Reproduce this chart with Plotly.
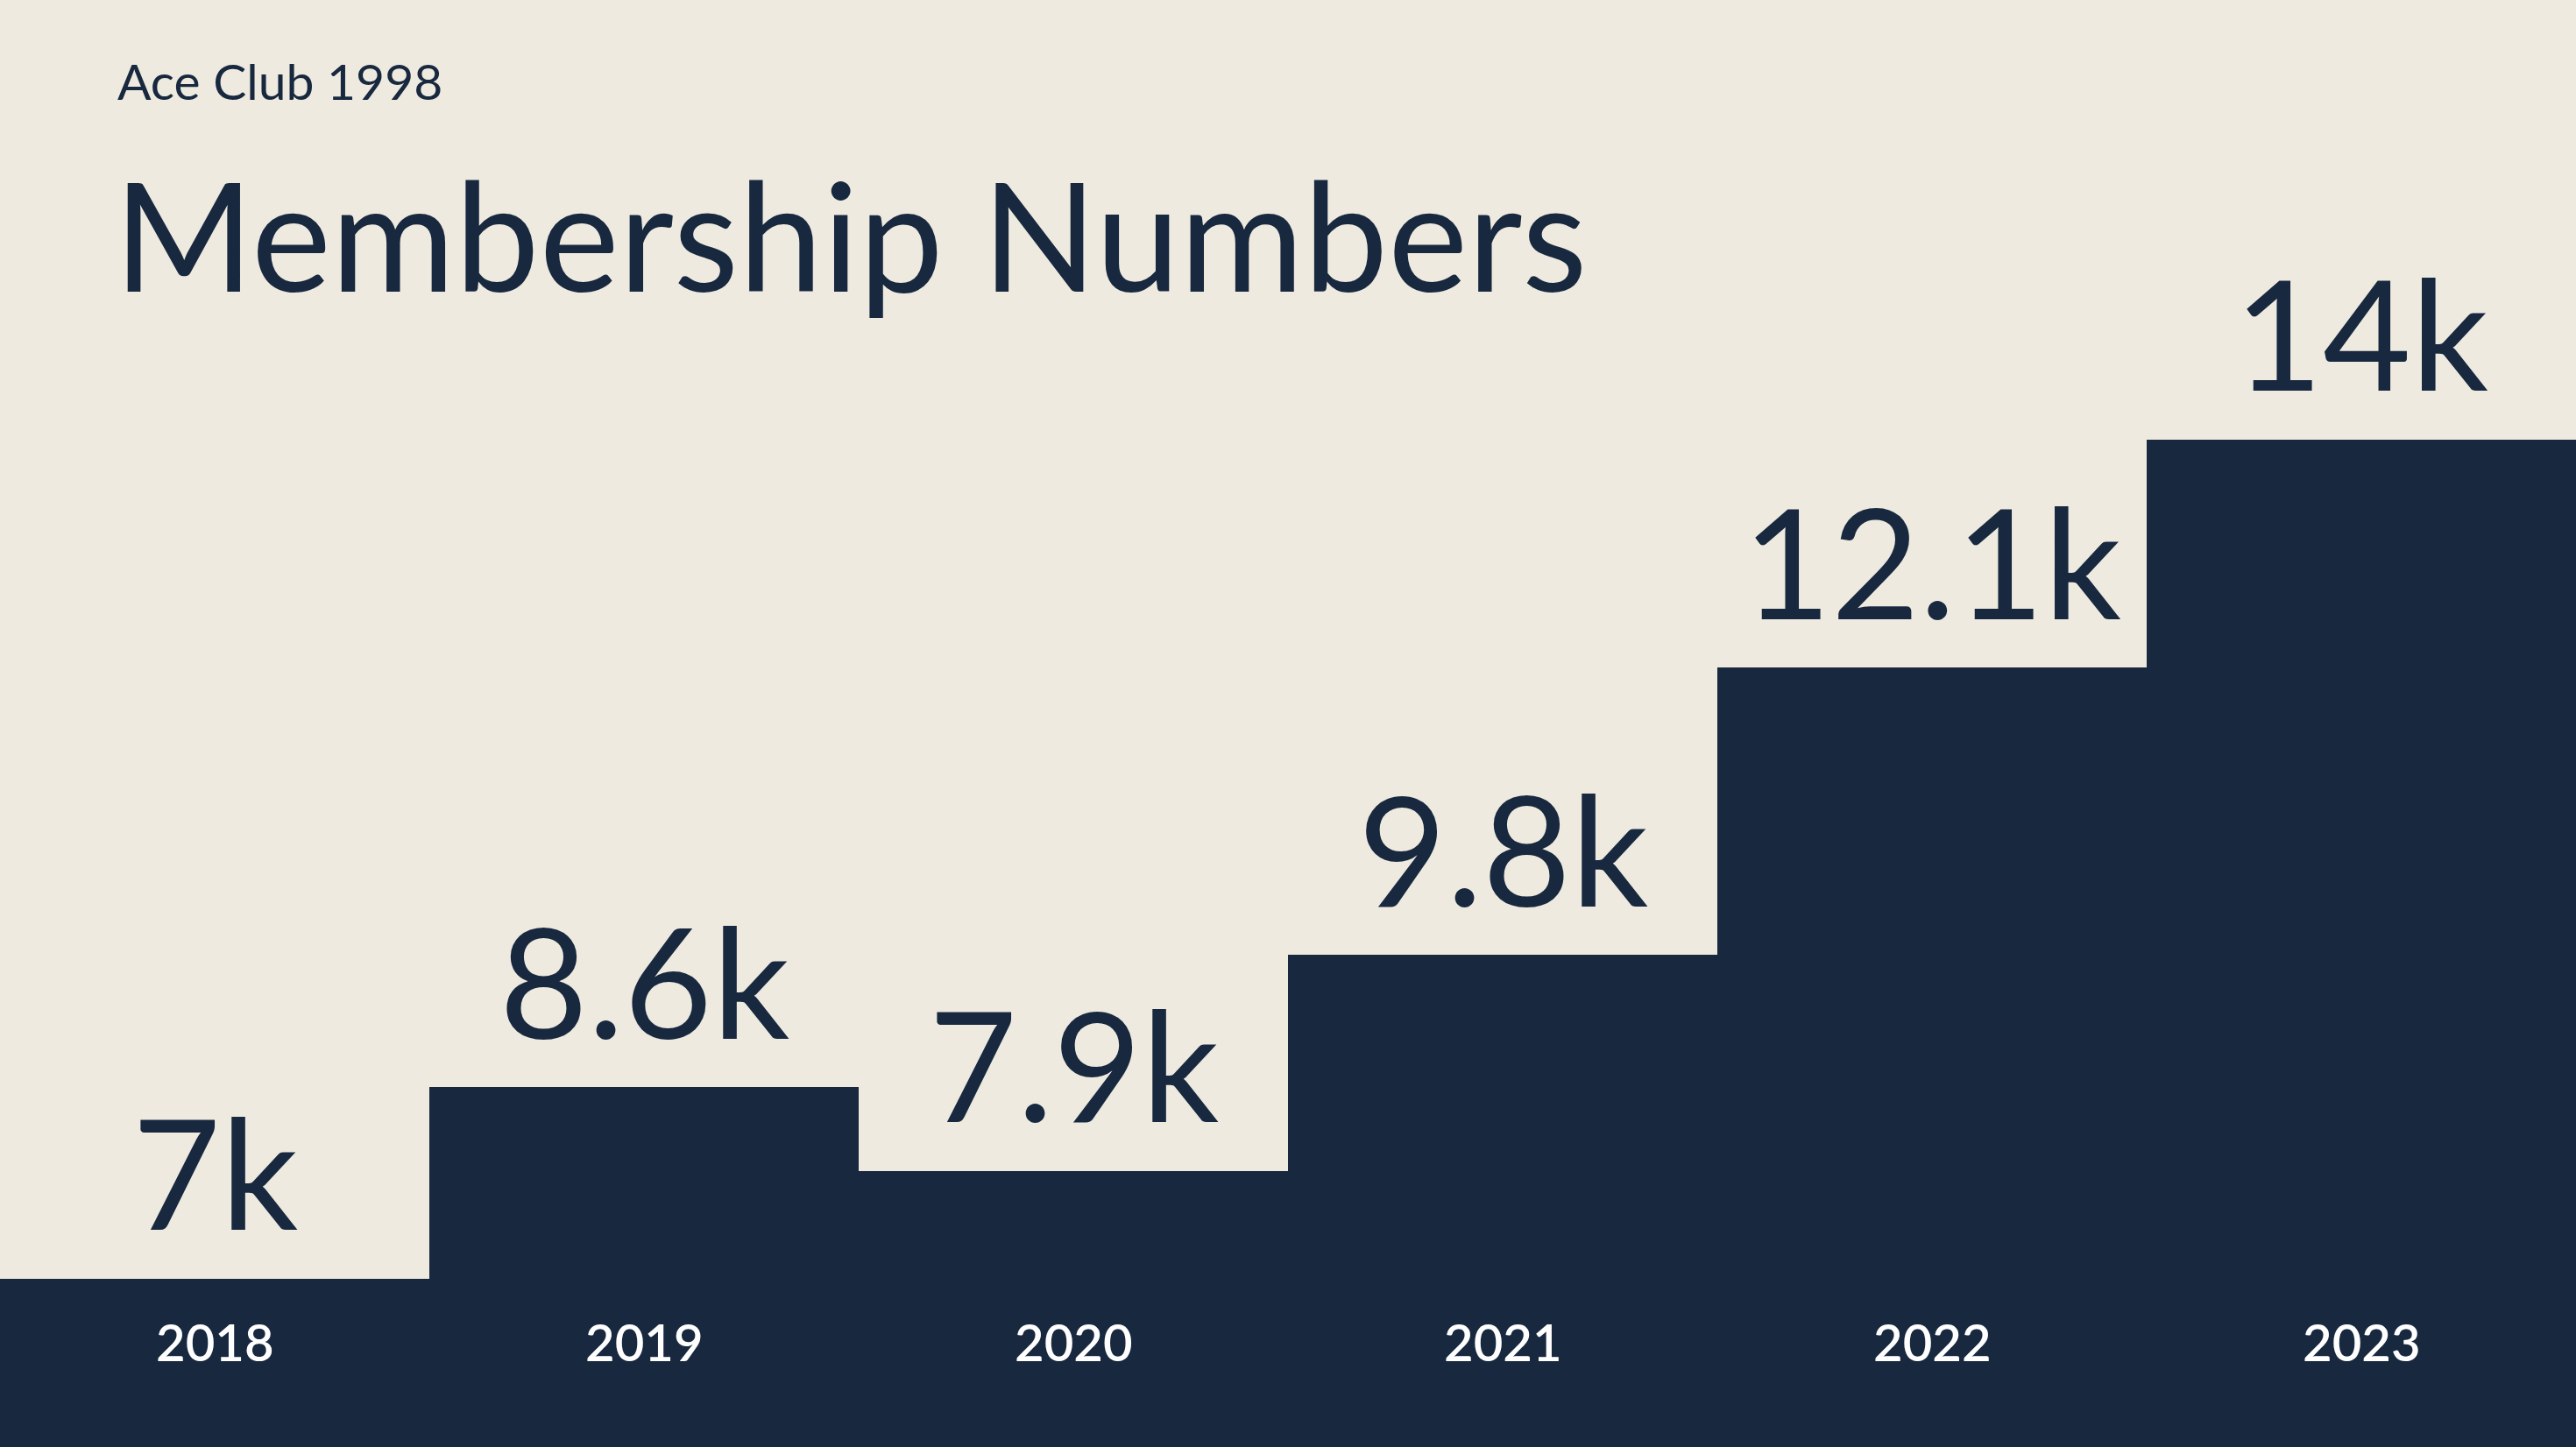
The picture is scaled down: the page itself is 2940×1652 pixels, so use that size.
import plotly.graph_objects as go

years = ["2018", "2019", "2020", "2021", "2022", "2023"]
members_k = [7.0, 8.6, 7.9, 9.7, 12.1, 14.0]
value_labels = ["7k", "8.6k", "7.9k", "9.8k", "12.1k", "14k"]
subtitle = "Ace Club 1998"
title = "Membership Numbers"

NAVY = "#17283F"
CREAM = "#EFEADF"
FONT = "Lato"
W, H = 2940, 1652

fig = go.Figure()
fig.add_trace(go.Bar(
    x=years, y=members_k,
    marker=dict(color=NAVY, line=dict(width=0)),
    hoverinfo="skip",
))

# value labels above each bar (category axis: position by category index)
for i, (v, lab) in enumerate(zip(members_k, value_labels)):
    fig.add_annotation(
        x=i, y=v, xref="x", yref="y", text=lab, showarrow=False,
        xanchor="center", yanchor="middle", yshift=123,
        font=dict(family=FONT, size=174, color=NAVY),
    )

# year labels inside bars near the bottom
for i, yr in enumerate(years):
    fig.add_annotation(
        x=i, y=1 - 1531 / H, xref="x", yref="paper", text=yr, showarrow=False,
        xanchor="center", yanchor="middle",
        font=dict(family=FONT, size=58, color="#FFFFFF", weight=600),
    )

fig.add_annotation(
    x=132 / W, y=1 - 92 / H, xref="paper", yref="paper", text=subtitle,
    showarrow=False, xanchor="left", yanchor="middle",
    font=dict(family=FONT, size=57, color=NAVY),
)
fig.add_annotation(
    x=128 / W, y=1 - 266 / H, xref="paper", yref="paper", text=title,
    showarrow=False, xanchor="left", yanchor="middle",
    font=dict(family=FONT, size=172, color=NAVY),
)

fig.update_layout(
    width=W, height=H,
    margin=dict(l=0, r=0, t=0, b=0, pad=0),
    paper_bgcolor=CREAM, plot_bgcolor=CREAM,
    bargap=0, showlegend=False,
    xaxis=dict(type="category", range=[-0.5, 5.5], visible=False, fixedrange=True),
    yaxis=dict(range=[5.597, 17.668], visible=False, fixedrange=True),
)

fig.write_html("out.html", config={"displayModeBar": False},
               post_script="document.body.style.margin='0';document.body.style.overflow='hidden';")
